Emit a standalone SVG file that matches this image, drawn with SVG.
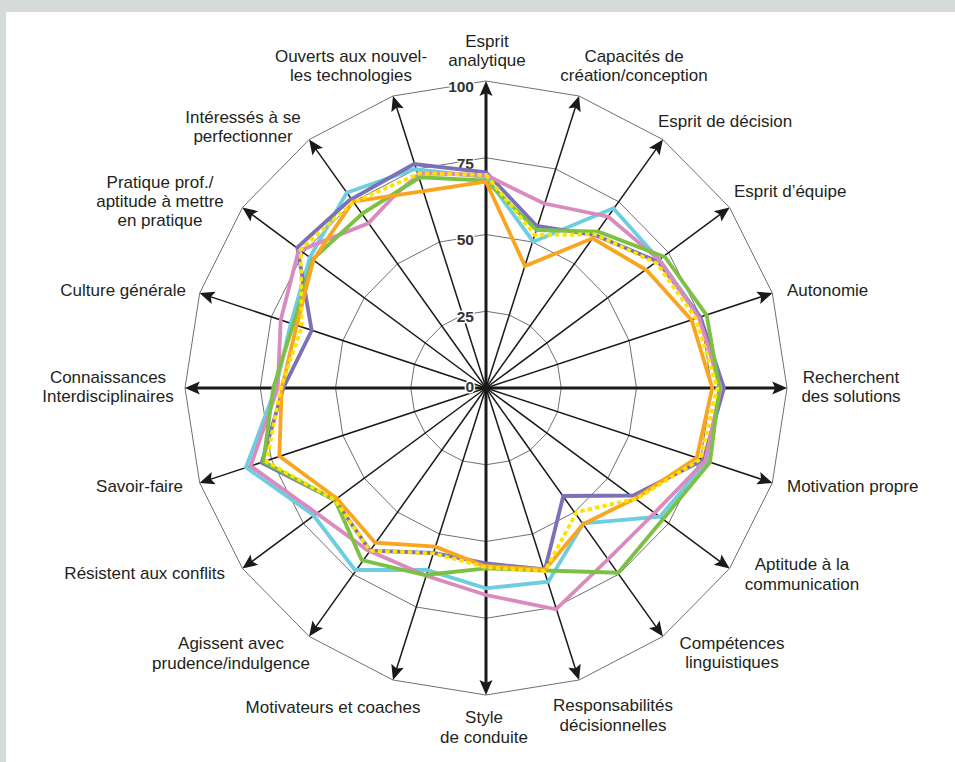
<svg xmlns="http://www.w3.org/2000/svg" width="955" height="762" viewBox="0 0 955 762">
<style>
.ring{fill:none;stroke:#5f6062;stroke-width:0.9}
.ax{stroke:#1a1a1a;stroke-width:1.5;marker-end:url(#ah)}
.axm{stroke:#1a1a1a;stroke-width:3;marker-end:url(#ah)}
.ser{fill:none;stroke-width:3.8;stroke-linejoin:miter;stroke-miterlimit:6}
.lbl{font-family:"Liberation Sans",Arial,sans-serif;font-size:17px;fill:#231f20}
.sc{font-family:"Liberation Sans",Arial,sans-serif;font-size:15.5px;font-weight:bold;fill:#333;text-anchor:end;stroke:#fff;stroke-width:3;paint-order:stroke;stroke-linejoin:round}
.m{text-anchor:middle}
.e{text-anchor:end}
</style>
<defs>
<marker id="ah" markerUnits="userSpaceOnUse" orient="auto" markerWidth="20" markerHeight="20" refX="0" refY="0" overflow="visible">
<path d="M8,0 L-7,-6.5 L-4,0 L-7,6.5 Z" fill="#1a1a1a"/>
</marker>
</defs>
<rect x="0" y="0" width="955" height="762" fill="#d5dadb"/>
<rect x="6" y="12" width="949" height="750" fill="#ffffff"/>

<g id="grid">
<polygon class="ring" points="486,311.25 509.25,315 530.2,325.9 546.9,342.9 557.6,364.3 561.25,388 557.6,411.7 546.9,433.1 530.2,450.1 509.25,461 486,464.75 462.75,461 441.8,450.1 425.1,433.1 414.4,411.7 410.75,388 414.4,364.3 425.1,342.9 441.8,325.9 462.75,315"/>
<polygon class="ring" points="486,234.5 532.5,242 574.45,263.8 607.75,297.75 629.15,340.55 636.5,388 629.15,435.45 607.75,478.25 574.45,512.2 532.5,534 486,541.5 439.5,534 397.55,512.2 364.25,478.25 342.85,435.45 335.5,388 342.85,340.55 364.25,297.75 397.55,263.8 439.5,242"/>
<polygon class="ring" points="486,157.75 555.75,169 618.7,201.7 668.6,252.6 700.7,316.8 711.75,388 700.7,459.2 668.6,523.4 618.7,574.3 555.75,607 486,618.25 416.25,607 353.3,574.3 303.4,523.4 271.3,459.2 260.25,388 271.3,316.8 303.4,252.6 353.3,201.7 416.25,169"/>
<polygon class="ring" points="486,81 579,96 662.9,139.6 729.5,207.5 772.3,293.1 787,388 772.3,482.9 729.5,568.5 662.9,636.4 579,680 486,695 393,680 309.1,636.4 242.5,568.5 199.7,482.9 185,388 199.7,293.1 242.5,207.5 309.1,139.6 393,96"/>
</g>

<g id="axes">
<line class="ax" x1="486" y1="388" x2="576.6" y2="103.6"/>
<line class="ax" x1="486" y1="388" x2="658.3" y2="146.1"/>
<line class="ax" x1="486" y1="388" x2="723.2" y2="212.2"/>
<line class="ax" x1="486" y1="388" x2="764.9" y2="295.6"/>
<line class="ax" x1="486" y1="388" x2="764.9" y2="480.4"/>
<line class="ax" x1="486" y1="388" x2="723.2" y2="563.8"/>
<line class="ax" x1="486" y1="388" x2="658.3" y2="629.9"/>
<line class="ax" x1="486" y1="388" x2="576.6" y2="672.4"/>
<line class="ax" x1="486" y1="388" x2="395.4" y2="672.4"/>
<line class="ax" x1="486" y1="388" x2="313.7" y2="629.9"/>
<line class="ax" x1="486" y1="388" x2="248.8" y2="563.8"/>
<line class="ax" x1="486" y1="388" x2="207.1" y2="480.4"/>
<line class="ax" x1="486" y1="388" x2="207.1" y2="295.6"/>
<line class="ax" x1="486" y1="388" x2="248.8" y2="212.2"/>
<line class="ax" x1="486" y1="388" x2="313.7" y2="146.1"/>
<line class="ax" x1="486" y1="388" x2="395.4" y2="103.6"/>
<line class="axm" x1="486" y1="388" x2="486" y2="89"/>
<line class="axm" x1="486" y1="388" x2="779.2" y2="388"/>
<line class="axm" x1="486" y1="388" x2="486" y2="687"/>
<line class="axm" x1="486" y1="388" x2="192.8" y2="388"/>
</g>

<g id="scale">
<text class="sc" x="474" y="92">100</text>
<text class="sc" x="474" y="168.5">75</text>
<text class="sc" x="474" y="244.5">50</text>
<text class="sc" x="474" y="321.5">25</text>
<text class="sc" x="474" y="392">0</text>
</g>

<g id="series">
<polygon id="s-cyan" class="ser" stroke="#6dcde1" points="486,177 533.3,241.7 613.3,208.3 660,260.6 700.5,317.4 722,388 706.7,461.2 660,516.7 583.3,523.3 548.3,581.7 486,588.3 426.7,570 355,570 313.3,515 246,467.3 275.7,388 290.7,324 310,257 346.7,192.7 414,169.3"/>
<polygon id="s-purple" class="ser" stroke="#7a71b8" points="486,172.3 536.7,226 595,235 658.3,261.8 700.5,317.4 724,388 703.3,460 633.3,495.5 563.3,496 545,569.5 486,563.3 433.5,553 370,550.7 335,500 261.7,462.7 283.3,388 311.7,330.5 297.3,247.5 349,200.5 414,164"/>
<polygon id="s-pink" class="ser" stroke="#d98bbf" points="486,175 543.3,203.3 608.3,216.7 660,260.6 699,317.9 720.7,388 705.3,460.7 655,512.5 609.8,557.5 556,609.3 486,595 427,576 367.3,550 315.3,512.3 250.7,466 277.7,388 280.7,320 298.5,251 368.3,223.3 396.7,193.3 420,173.3"/>
<polygon id="s-green" class="ser" stroke="#7cc143" points="486,180.7 536.7,230 598.3,231.7 665,257 706.7,315.3 719.3,388 710,462.3 663.5,518.5 618.3,572.7 545.5,570.5 486,568.3 425,575 361.7,560 335,500 263.3,461.7 273.3,388 293.3,324.3 312.7,259.3 362.7,213.3 420,177.3"/>
<polygon id="s-orange" class="ser" stroke="#f9a51f" points="486,181.7 525,266 592.7,238.3 646.7,270.3 691.7,320.2 712.3,388 696.7,457.8 636,498 583.3,524 545,569.5 484,566 435.5,546.7 375,542.7 336.7,498.3 279.3,456 281.7,388 296.7,325.3 313.3,260 352.7,201.7 423.3,191.2"/>
<polygon id="s-yellow" class="ser" stroke="#ffe200" stroke-dasharray="4.5 3" points="486,175 535,235 595,234.3 656.7,263.2 696,318.8 717.3,388 700.7,459 637,498.5 576.7,512 545,571 486,567.3 433.3,553.3 370,550.7 335,500 266.7,461.7 280.7,388 301.7,327 300.7,249.5 352,203 420,173.3"/>
</g>

<g id="labels">
<g id="l00"><text class="lbl m" x="487" y="47">Esprit</text><text class="lbl m" x="487" y="66">analytique</text></g>
<g id="l01"><text class="lbl m" x="634" y="62">Capacités de</text><text class="lbl m" x="634" y="81">création/conception</text></g>
<g id="l02"><text class="lbl" x="658" y="127">Esprit de décision</text></g>
<g id="l03"><text class="lbl" x="734" y="197">Esprit d’équipe</text></g>
<g id="l04"><text class="lbl" x="787" y="296">Autonomie</text></g>
<g id="l05"><text class="lbl m" x="851" y="383">Recherchent</text><text class="lbl m" x="851" y="402">des solutions</text></g>
<g id="l06"><text class="lbl" x="787" y="492">Motivation propre</text></g>
<g id="l07"><text class="lbl m" x="802" y="570">Aptitude à la</text><text class="lbl m" x="802" y="590">communication</text></g>
<g id="l08"><text class="lbl m" x="732" y="649">Compétences</text><text class="lbl m" x="732" y="668">linguistiques</text></g>
<g id="l09"><text class="lbl m" x="613" y="711">Responsabilités</text><text class="lbl m" x="613" y="731">décisionnelles</text></g>
<g id="l10"><text class="lbl m" x="484" y="723">Style</text><text class="lbl m" x="484" y="743">de conduite</text></g>
<g id="l11"><text class="lbl m" x="333" y="713">Motivateurs et coaches</text></g>
<g id="l12"><text class="lbl m" x="231" y="649">Agissent avec</text><text class="lbl m" x="231" y="669">prudence/indulgence</text></g>
<g id="l13"><text class="lbl e" x="225" y="579">Résistent aux conflits</text></g>
<g id="l14"><text class="lbl e" x="183" y="492">Savoir-faire</text></g>
<g id="l15"><text class="lbl m" x="108" y="383">Connaissances</text><text class="lbl m" x="108" y="402">Interdisciplinaires</text></g>
<g id="l16"><text class="lbl e" x="186" y="296">Culture générale</text></g>
<g id="l17"><text class="lbl m" x="160" y="188">Pratique prof./</text><text class="lbl m" x="160" y="207">aptitude à mettre</text><text class="lbl m" x="160" y="226">en pratique</text></g>
<g id="l18"><text class="lbl m" x="243" y="123">Intéressés à se</text><text class="lbl m" x="243" y="142">perfectionner</text></g>
<g id="l19"><text class="lbl m" x="351" y="62">Ouverts aux nouvel-</text><text class="lbl m" x="351" y="81">les technologies</text></g>
</g>
</svg>
